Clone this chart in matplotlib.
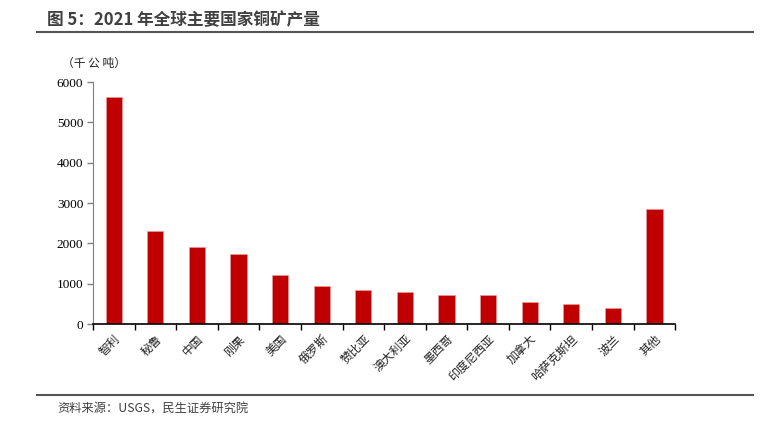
import numpy as np
import matplotlib.pyplot as plt
from matplotlib.lines import Line2D

plt.rcParams['font.family'] = ['Noto Sans CJK SC', 'DejaVu Sans']

# 2021 年主要国家铜矿产量（千公吨）
countries = ['智利', '秘鲁', '中国', '刚果', '美国', '俄罗斯', '赞比亚', '澳大利亚',
             '墨西哥', '印度尼西亚', '加拿大', '哈萨克斯坦', '波兰', '其他']
output = [5620, 2300, 1910, 1740, 1220, 935, 840, 800, 730, 725, 545, 505, 395, 2850]
yticks = [0, 1000, 2000, 3000, 4000, 5000, 6000]

fig = plt.figure(figsize=(7.77, 4.33), dpi=100)
ax = fig.add_axes([0.1197, 0.2517, 0.7493, 0.5589])

x = np.arange(len(countries))
ax.bar(x, output, width=0.39, color='#C00000', edgecolor='#E8A0A0', linewidth=0.4)

ax.set_xlim(-0.5, len(countries) - 0.5)
ax.set_ylim(0, 6000)
ax.set_yticks(yticks)
ax.set_yticklabels([str(v) for v in yticks], family='Liberation Serif', fontsize=9.5)
ax.set_xticks(x)
ax.set_xticklabels(countries, rotation=45, ha='right', va='top', rotation_mode='anchor',
                   fontsize=8.5, color='#222222')
ax.set_xticks(np.arange(-0.5, len(countries)), minor=True)
ax.tick_params(axis='x', which='major', length=0, pad=6)
ax.tick_params(axis='x', which='minor', length=4, width=1, direction='out', color='black')
ax.tick_params(axis='y', length=4, width=1, direction='out', color='#808080', pad=3)

for side in ['top', 'right']:
    ax.spines[side].set_visible(False)
ax.spines['left'].set_color('#808080')
ax.spines['bottom'].set_color('black')
ax.spines['bottom'].set_linewidth(1.2)

# 单位
fig.text(62 / 777, 1 - 63 / 433, '（千 公 吨）', fontsize=8.5, color='#222222', va='center')

# 标题与分隔线
fig.text(47 / 777, 1 - 20 / 433, '图 5：2021 年全球主要国家铜矿产量', fontsize=12,
         fontweight='bold', color='#404040', va='center')
fig.add_artist(Line2D([37 / 777, 753 / 777], [1 - 32 / 433, 1 - 32 / 433],
                      color='#555555', linewidth=1.5))
fig.add_artist(Line2D([37 / 777, 753 / 777], [1 - 395 / 433, 1 - 395 / 433],
                      color='#555555', linewidth=1.5))

# 资料来源
fig.text(57 / 777, 1 - 409 / 433, '资料来源：USGS，民生证券研究院', fontsize=8.8,
         color='#404040', va='center')

fig.savefig('out.png', dpi=100)
